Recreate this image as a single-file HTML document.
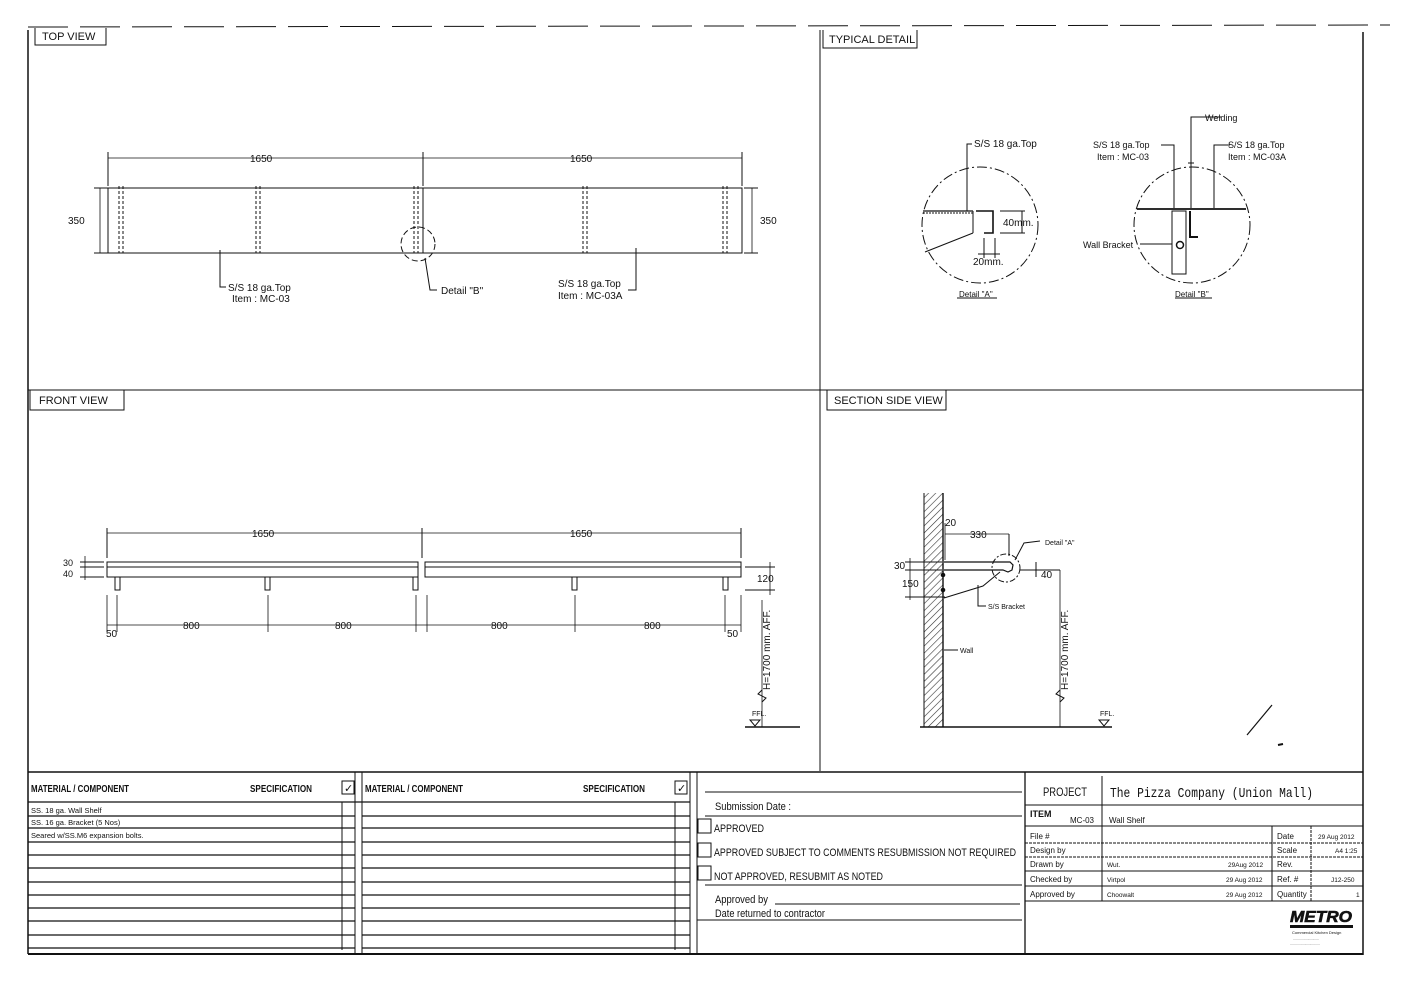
<!DOCTYPE html>
<html><head><meta charset="utf-8"><style>
html,body{margin:0;padding:0;background:#fff}
svg{display:block}
text{font-family:"Liberation Sans",sans-serif;fill:#111}
</style></head><body>
<svg width="1403" height="992" viewBox="0 0 1403 992" xmlns="http://www.w3.org/2000/svg">
<g stroke="#111" fill="none" stroke-width="1">
<line x1="28" y1="27" x2="1390" y2="25" stroke-dasharray="40,12" stroke-width="1"/>
<line x1="28" y1="30" x2="28" y2="954" stroke-width="1.5"/>
<line x1="1363" y1="32" x2="1363" y2="955" stroke-width="1.5"/>
<line x1="28" y1="954" x2="1363" y2="954" stroke-width="2"/>
<line x1="820" y1="30" x2="820" y2="771"/>
<line x1="28" y1="390" x2="1363" y2="390"/>
<line x1="28" y1="772" x2="1363" y2="772" stroke-width="1.5"/>
<polyline points="35,28 35,45 106,45 106,28"/>
<polyline points="823,30 823,48 917,48 917,30"/>
<polyline points="30,390 30,410 124,410 124,390"/>
<polyline points="827,390 827,410 946,410 946,390"/>

<rect x="108" y="188" width="634" height="65"/>
<line x1="423" y1="188" x2="423" y2="253"/>
<line x1="108" y1="158" x2="742" y2="158" stroke-width="0.8"/>
<line x1="108" y1="152" x2="108" y2="186"/><line x1="423" y1="152" x2="423" y2="186"/><line x1="742" y1="152" x2="742" y2="186"/>
<line x1="100" y1="188" x2="100" y2="253" stroke-width="0.8"/>
<line x1="94" y1="188" x2="108" y2="188"/><line x1="94" y1="253" x2="108" y2="253"/>
<line x1="752" y1="188" x2="752" y2="253" stroke-width="0.8"/>
<line x1="744" y1="188" x2="758" y2="188"/><line x1="744" y1="253" x2="758" y2="253"/>
<g stroke-dasharray="3,2">
<line x1="119" y1="186" x2="119" y2="253"/><line x1="123" y1="186" x2="123" y2="253"/>
<line x1="256" y1="186" x2="256" y2="253"/><line x1="260" y1="186" x2="260" y2="253"/>
<line x1="414" y1="186" x2="414" y2="253"/><line x1="418" y1="186" x2="418" y2="253"/>
<line x1="583" y1="186" x2="583" y2="253"/><line x1="587" y1="186" x2="587" y2="253"/>
<line x1="723" y1="186" x2="723" y2="253"/><line x1="727" y1="186" x2="727" y2="253"/>
</g>
<circle cx="418" cy="244" r="17" stroke-dasharray="6,3"/>
<polyline points="220,250 220,287 226,287"/>
<polyline points="425,258 430,290 437,290"/>
<polyline points="636,248 636,290 628,290"/>

<rect x="107" y="562" width="311" height="15"/><line x1="107" y1="567" x2="418" y2="567"/>
<rect x="425" y="562" width="316" height="15"/><line x1="425" y1="567" x2="741" y2="567"/>
<rect x="115" y="577" width="5" height="13"/><rect x="265" y="577" width="5" height="13"/><rect x="413" y="577" width="5" height="13"/>
<rect x="572" y="577" width="5" height="13"/><rect x="723" y="577" width="5" height="13"/>
<line x1="107" y1="533" x2="741" y2="533" stroke-width="0.8"/>
<line x1="107" y1="528" x2="107" y2="558"/><line x1="422" y1="528" x2="422" y2="558"/><line x1="741" y1="528" x2="741" y2="558"/>
<line x1="80" y1="562" x2="104" y2="562"/><line x1="80" y1="567" x2="104" y2="567"/><line x1="80" y1="577" x2="104" y2="577"/>
<line x1="85" y1="556" x2="85" y2="580" stroke-width="0.8"/>
<line x1="745" y1="567" x2="775" y2="567"/><line x1="745" y1="590" x2="775" y2="590"/>
<line x1="770" y1="562" x2="770" y2="595" stroke-width="0.8"/>
<line x1="107" y1="625" x2="741" y2="625" stroke-width="0.8"/>
<g stroke-width="0.8"><line x1="107" y1="595" x2="107" y2="632"/><line x1="117" y1="595" x2="117" y2="632"/><line x1="268" y1="595" x2="268" y2="632"/><line x1="416" y1="595" x2="416" y2="632"/><line x1="427" y1="595" x2="427" y2="632"/><line x1="575" y1="595" x2="575" y2="632"/><line x1="725" y1="595" x2="725" y2="632"/><line x1="741" y1="595" x2="741" y2="632"/></g>
<line x1="762" y1="600" x2="762" y2="727" stroke-width="0.8"/>
<polyline points="762,690 758,694 766,698 762,702"/>
<line x1="745" y1="727" x2="800" y2="727" stroke-width="1.5"/>
<polygon points="750,720 760,720 755,726"/>

<circle cx="980" cy="225" r="58" stroke-dasharray="10,3,2,3"/>
<line x1="923" y1="211" x2="973" y2="211" stroke-width="1.2"/>
<line x1="923" y1="213" x2="973" y2="213" stroke-dasharray="2,1"/>
<line x1="973" y1="211" x2="973" y2="233"/>
<line x1="925" y1="252" x2="973" y2="233"/>
<polyline points="976,211 993,211 993,233 984,233" stroke-width="1.6"/>
<polyline points="967,211 967,144 972,144"/>
<line x1="1000" y1="211" x2="1025" y2="211"/><line x1="1000" y1="233" x2="1025" y2="233"/><line x1="1022" y1="211" x2="1022" y2="233"/>
<line x1="984" y1="238" x2="984" y2="258"/><line x1="995" y1="238" x2="995" y2="258"/><line x1="978" y1="254" x2="1000" y2="254"/>
<line x1="957" y1="298" x2="997" y2="298"/>
<circle cx="1192" cy="225" r="58" stroke-dasharray="10,3,2,3"/>
<line x1="1137" y1="209" x2="1246" y2="209" stroke-width="1.8"/>
<rect x="1172" y="211" width="14" height="63"/>
<polyline points="1190,211 1190,237 1198,237" stroke-width="2"/>
<circle cx="1180" cy="245" r="3.5" stroke-width="1.5"/>
<polyline points="1161,145 1174,145 1174,208"/>
<polyline points="1221,117 1191,117 1191,208"/>
<line x1="1188" y1="163" x2="1194" y2="163"/>
<polyline points="1230,145 1214,145 1214,208"/>
<line x1="1140" y1="244" x2="1172" y2="244"/>
<line x1="1175" y1="298" x2="1212" y2="298"/>

<rect x="924" y="493" width="19" height="234" fill="url(#h)" stroke="none"/>
<line x1="924" y1="493" x2="924" y2="727"/><line x1="943" y1="493" x2="943" y2="727" stroke-width="1.4"/>
<line x1="920" y1="727" x2="1112" y2="727" stroke-width="1.5"/>
<polyline points="944,562 1010,562 1013,565 1012,570 1008,572 1003,570 944,570" stroke-width="1.2"/>
<polyline points="944,598 983,586 1000,572"/>
<circle cx="943" cy="575" r="1.8" fill="#111"/><circle cx="943" cy="590" r="1.8" fill="#111"/>
<circle cx="1006" cy="568" r="14" stroke-dasharray="6,2,2,2"/>
<line x1="945" y1="523" x2="945" y2="560" stroke-width="0.8"/>
<line x1="945" y1="534" x2="1009" y2="534" stroke-width="0.8"/><line x1="1009" y1="534" x2="1009" y2="556"/>
<line x1="905" y1="562" x2="942" y2="562"/><line x1="905" y1="570" x2="942" y2="570"/><line x1="905" y1="597" x2="945" y2="597"/>
<line x1="910" y1="558" x2="910" y2="600" stroke-width="0.8"/>
<polyline points="1015,560 1024,543 1040,541"/>
<line x1="1020" y1="570" x2="1060" y2="570"/><line x1="1036" y1="562" x2="1036" y2="577"/>
<line x1="1060" y1="570" x2="1060" y2="727" stroke-width="0.8"/>
<polyline points="1060,690 1056,694 1064,698 1060,702"/>
<polyline points="978,585 978,606 986,606"/>
<line x1="944" y1="650" x2="958" y2="650"/>
<polygon points="1099,720 1109,720 1104,726"/>
<line x1="1247" y1="735" x2="1272" y2="705" stroke-width="1.2"/>
<line x1="1278" y1="745" x2="1283" y2="744" stroke-width="2"/>

<line x1="28" y1="802" x2="690" y2="802" stroke-width="1.3"/>
<line x1="355" y1="772" x2="355" y2="954"/><line x1="362" y1="772" x2="362" y2="954"/>
<line x1="342" y1="802" x2="342" y2="950"/><line x1="675" y1="802" x2="675" y2="950"/>
<line x1="690" y1="772" x2="690" y2="954"/><line x1="697" y1="772" x2="697" y2="954"/>
<rect x="342" y="781" width="12" height="13"/><rect x="675" y="781" width="12" height="13"/>
<g stroke-width="1.2">
<line x1="28" y1="816" x2="355" y2="816"/><line x1="28" y1="828" x2="355" y2="828"/><line x1="28" y1="842" x2="355" y2="842"/><line x1="28" y1="855" x2="355" y2="855"/><line x1="28" y1="868" x2="355" y2="868"/><line x1="28" y1="882" x2="355" y2="882"/><line x1="28" y1="895" x2="355" y2="895"/><line x1="28" y1="908" x2="355" y2="908"/><line x1="28" y1="921" x2="355" y2="921"/><line x1="28" y1="935" x2="355" y2="935"/><line x1="28" y1="948" x2="355" y2="948"/>
<line x1="362" y1="816" x2="690" y2="816"/><line x1="362" y1="828" x2="690" y2="828"/><line x1="362" y1="842" x2="690" y2="842"/><line x1="362" y1="855" x2="690" y2="855"/><line x1="362" y1="868" x2="690" y2="868"/><line x1="362" y1="882" x2="690" y2="882"/><line x1="362" y1="895" x2="690" y2="895"/><line x1="362" y1="908" x2="690" y2="908"/><line x1="362" y1="921" x2="690" y2="921"/><line x1="362" y1="935" x2="690" y2="935"/><line x1="362" y1="948" x2="690" y2="948"/>
</g>
<line x1="705" y1="792" x2="1022" y2="792"/>
<line x1="705" y1="816" x2="1022" y2="816"/>
<line x1="705" y1="885" x2="1022" y2="885"/>
<line x1="775" y1="904" x2="1020" y2="904"/>
<line x1="697" y1="920" x2="1022" y2="920"/>
<rect x="698" y="819" width="13" height="14"/><rect x="698" y="843" width="13" height="14"/><rect x="698" y="866" width="13" height="14"/>
<line x1="1025" y1="772" x2="1025" y2="954" stroke-width="1.3"/>
<line x1="1102" y1="776" x2="1102" y2="826"/>
<line x1="1025" y1="805" x2="1363" y2="805"/>
<line x1="1025" y1="826" x2="1363" y2="826"/>
<line x1="1025" y1="843" x2="1363" y2="843" stroke-dasharray="3,1"/>
<line x1="1025" y1="857" x2="1363" y2="857" stroke-dasharray="3,1"/>
<line x1="1025" y1="871" x2="1363" y2="871"/>
<line x1="1025" y1="886" x2="1363" y2="886"/>
<line x1="1025" y1="901" x2="1363" y2="901"/>
<line x1="1102" y1="826" x2="1102" y2="901"/>
<line x1="1272" y1="826" x2="1272" y2="901"/>
<line x1="1311" y1="826" x2="1311" y2="901" stroke-dasharray="3,1"/>
</g>
<defs><pattern id="h" width="5" height="5" patternUnits="userSpaceOnUse" patternTransform="rotate(45)"><line x1="0" y1="0" x2="0" y2="5" stroke="#333" stroke-width="1.2"/></pattern></defs>

<g font-size="10">
<text x="42" y="40" font-size="11">TOP VIEW</text>
<text x="829" y="43" font-size="11">TYPICAL DETAIL</text>
<text x="39" y="404" font-size="11">FRONT VIEW</text>
<text x="834" y="404" font-size="11">SECTION SIDE VIEW</text>
<text x="250" y="162">1650</text><text x="570" y="162">1650</text>
<text x="68" y="224">350</text><text x="760" y="224">350</text>
<text x="228" y="291">S/S 18 ga.Top</text><text x="232" y="302">Item : MC-03</text>
<text x="441" y="294">Detail "B"</text>
<text x="558" y="287">S/S 18 ga.Top</text><text x="558" y="299">Item : MC-03A</text>
<text x="252" y="537">1650</text><text x="570" y="537">1650</text>
<text x="63" y="566" font-size="9">30</text><text x="63" y="577" font-size="9">40</text>
<text x="757" y="582">120</text>
<text x="106" y="637">50</text><text x="183" y="629">800</text><text x="335" y="629">800</text><text x="491" y="629">800</text><text x="644" y="629">800</text><text x="727" y="637">50</text>
<text transform="translate(770,690) rotate(-90)" font-size="10">H=1700 mm. AFF.</text>
<text x="752" y="716" font-size="7">FFL.</text>
<text x="974" y="147">S/S 18 ga.Top</text>
<text x="1003" y="226">40mm.</text>
<text x="973" y="265">20mm.</text>
<text x="959" y="297" font-size="8">Detail "A"</text>
<text x="1205" y="121" font-size="9">Welding</text>
<text x="1093" y="148" font-size="9">S/S 18 ga.Top</text><text x="1097" y="160" font-size="9">Item : MC-03</text>
<text x="1228" y="148" font-size="9">S/S 18 ga.Top</text><text x="1228" y="160" font-size="9">Item : MC-03A</text>
<text x="1083" y="248" font-size="9">Wall Bracket</text>
<text x="1175" y="297" font-size="8">Detail "B"</text>
<text x="945" y="526">20</text><text x="970" y="538">330</text>
<text x="1045" y="545" font-size="7">Detail "A"</text>
<text x="894" y="569">30</text><text x="902" y="587">150</text>
<text x="1041" y="578">40</text>
<text x="988" y="609" font-size="7">S/S Bracket</text>
<text x="960" y="653" font-size="7">Wall</text>
<text transform="translate(1068,690) rotate(-90)" font-size="10">H=1700 mm. AFF.</text>
<text x="1100" y="716" font-size="7">FFL.</text>
<g font-size="10" font-weight="bold">
<text x="31" y="792" textLength="98" lengthAdjust="spacingAndGlyphs">MATERIAL / COMPONENT</text>
<text x="250" y="792" textLength="62" lengthAdjust="spacingAndGlyphs">SPECIFICATION</text>
<text x="365" y="792" textLength="98" lengthAdjust="spacingAndGlyphs">MATERIAL / COMPONENT</text>
<text x="583" y="792" textLength="62" lengthAdjust="spacingAndGlyphs">SPECIFICATION</text>
</g>
<text x="344" y="792" font-size="11">✓</text><text x="677" y="792" font-size="11">✓</text>
<g font-size="7.5">
<text x="31" y="813">SS. 18 ga. Wall Shelf</text>
<text x="31" y="825">SS. 16 ga. Bracket (5 Nos)</text>
<text x="31" y="838">Seared w/SS.M6 expansion bolts.</text>
</g>
<g font-size="11">
<text x="715" y="810" textLength="76" lengthAdjust="spacingAndGlyphs">Submission Date :</text>
<text x="714" y="832" textLength="50" lengthAdjust="spacingAndGlyphs">APPROVED</text>
<text x="714" y="856" textLength="302" lengthAdjust="spacingAndGlyphs">APPROVED SUBJECT TO COMMENTS RESUBMISSION NOT REQUIRED</text>
<text x="714" y="880" textLength="169" lengthAdjust="spacingAndGlyphs">NOT APPROVED, RESUBMIT AS NOTED</text>
<text x="715" y="903" textLength="53" lengthAdjust="spacingAndGlyphs">Approved by</text>
<text x="715" y="917" textLength="110" lengthAdjust="spacingAndGlyphs">Date returned to contractor</text>
</g>
<text x="1043" y="796" font-size="12" textLength="44" lengthAdjust="spacingAndGlyphs">PROJECT</text>
<text x="1110" y="797" style="font-family:'Liberation Mono',monospace" font-size="14" textLength="203" lengthAdjust="spacingAndGlyphs">The Pizza Company (Union Mall)</text>
<text x="1030" y="817" font-size="9" font-weight="bold">ITEM</text>
<text x="1070" y="823" font-size="8">MC-03</text>
<text x="1109" y="823" font-size="8">Wall Shelf</text>
<g font-size="8">
<text x="1030" y="839">File #</text><text x="1030" y="853">Design by</text><text x="1030" y="867">Drawn by</text><text x="1030" y="882">Checked by</text><text x="1030" y="897">Approved by</text>
<text x="1107" y="867" font-size="6.5">Wut.</text><text x="1107" y="882" font-size="6.5">Virtpol</text><text x="1107" y="897" font-size="6.5">Choowalt</text>
<text x="1228" y="867" font-size="6.5">29Aug 2012</text><text x="1226" y="882" font-size="6.5">29 Aug 2012</text><text x="1226" y="897" font-size="6.5">29 Aug 2012</text>
<text x="1277" y="839">Date</text><text x="1277" y="853">Scale</text><text x="1277" y="867">Rev.</text><text x="1277" y="882">Ref. #</text><text x="1277" y="897">Quantity</text>
<text x="1318" y="839" font-size="6.5">29 Aug 2012</text><text x="1335" y="853" font-size="6.5">A4 1:25</text><text x="1331" y="882" font-size="6.5">J12-250</text><text x="1356" y="897" font-size="6.5">1</text>
</g>
<text x="1290" y="922" font-size="16" font-weight="bold" font-style="italic" textLength="62" lengthAdjust="spacingAndGlyphs" stroke="#111" stroke-width="0.6">METRO</text>
<rect x="1290" y="925" width="63" height="3" fill="#111"/>
<text x="1292" y="934" font-size="4">Commercial Kitchen Design</text>
<text x="1293" y="940" font-size="3.5">...........................</text>
<text x="1290" y="945" font-size="3.5">...............................</text>
</g>
</svg>
</body></html>
